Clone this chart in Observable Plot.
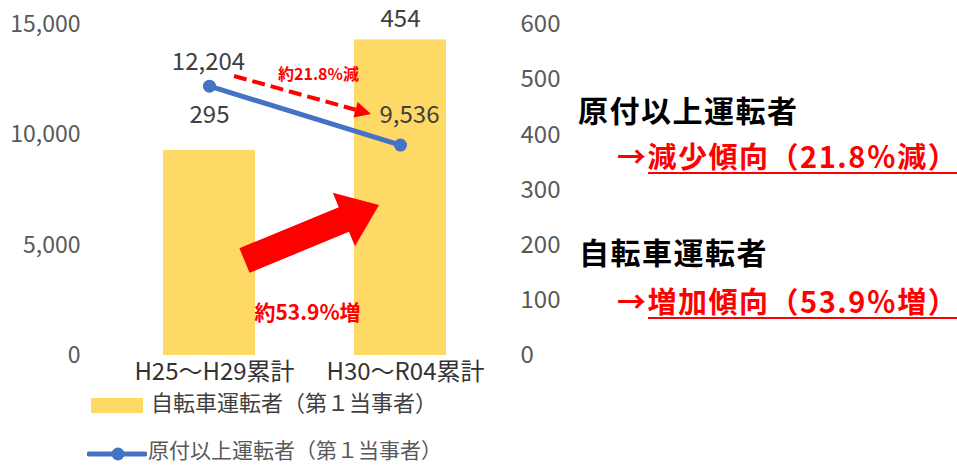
<!DOCTYPE html>
<html>
<head>
<meta charset="utf-8">
<script src="https://cdn.jsdelivr.net/npm/d3@7"></script>
<script src="https://cdn.jsdelivr.net/npm/@observablehq/plot@0.6"></script>
<style>
  body { margin: 0; background: #fff; }
  #wrap { position: relative; width: 957px; height: 465px; overflow: hidden; font-family: "Noto Sans CJK JP", sans-serif; }
  .abs { position: absolute; white-space: nowrap; line-height: 1; }
  .note-title { font-size: 30px; font-weight: 700; color: #000; letter-spacing: 1.5px; }
  .note-sub { font-size: 29px; font-weight: 700; color: #FF0000; letter-spacing: 1.5px; }
  .note-sub .ul { display: inline-block; border-bottom: 2px solid #FF0000; padding-bottom: 2px; padding-right: 10px; }
  .legend-text { font-size: 22px; }
</style>
</head>
<body>
<div id="wrap">
  <div id="chart"></div>
</div>
<script>
// ---- data ----
const categories = ["H25～H29累計", "H30～R04累計"];
const bicycleCounts = [295, 454];        // 自転車運転者（第１当事者） – bars
const mopedCounts = [12204, 9536];       // 原付以上運転者（第１当事者） – line
const leftTicks = [0, 5000, 10000, 15000];
const rightTicks = [0, 100, 200, 300, 400, 500, 600];
const seriesNames = ["自転車運転者（第１当事者）", "原付以上運転者（第１当事者）"];
const changeLabels = ["約21.8%減", "約53.9%増"];
const noteTitles = ["原付以上運転者", "自転車運転者"];
const noteTrends = ["減少傾向（21.8％減）", "増加傾向（53.9％増）"];

// secondary-axis mapping (right axis values onto left axis domain)
const RIGHT_AXIS_FACTOR = 25;
const BAR_FACTOR = 31.5;

// ---- annotation layout (styles / offsets) ----
const barLabelDy = [-35, -21];
const lineLabelDx = [-1, 9];
const lineLabelDy = [-24, -30];
const arrowAnchors = [
  {from: [0, 12644], fromDx: 25, to: [1, 10921], toDx: -29, kind: "dashed"},
  {from: [0, 4282], fromDx: 35.5, to: [1, 6798], toDx: -21, kind: "block"}
];
const changeLabelPos = [
  {cat: 0, y: 12734, dx: 109, size: 16},
  {cat: 0, y: 1903, dx: 98, size: 21}
];

const red = "#FF0000";
const blue = "#4472C4";
const gold = "#FFD966";

function arrowMark(index, scales, values, dimensions) {
  const NS = "http://www.w3.org/2000/svg";
  const g = document.createElementNS(NS, "g");
  const bw = typeof scales.x.bandwidth === "function" ? scales.x.bandwidth() : (scales.x.bandwidth || 0);
  const cx = i => scales.x(categories[i]) + bw / 2;
  for (const a of arrowAnchors) {
    const S = [cx(a.from[0]) + a.fromDx, scales.y(a.from[1])];
    const T = [cx(a.to[0]) + a.toDx, scales.y(a.to[1])];
    const L = Math.hypot(T[0] - S[0], T[1] - S[1]);
    const u = [(T[0] - S[0]) / L, (T[1] - S[1]) / L];
    const n = [-u[1], u[0]];
    const P = (p, du, dn) => [p[0] + u[0] * du + n[0] * dn, p[1] + u[1] * du + n[1] * dn];
    if (a.kind === "dashed") {
      const hl = 16, hw = 8;
      const B = P(T, -hl, 0);
      const line = document.createElementNS(NS, "line");
      line.setAttribute("x1", S[0]); line.setAttribute("y1", S[1]);
      line.setAttribute("x2", B[0]); line.setAttribute("y2", B[1]);
      line.setAttribute("stroke", red); line.setAttribute("stroke-width", 4);
      line.setAttribute("stroke-dasharray", "13,6");
      g.appendChild(line);
      const head = document.createElementNS(NS, "polygon");
      head.setAttribute("points", [T, P(B, 0, hw), P(B, 0, -hw)].map(p => p.join(",")).join(" "));
      head.setAttribute("fill", red);
      g.appendChild(head);
    } else {
      const w = 13.3, hw = 29, hl = 38;
      const B = P(T, -hl, 0);
      const pts = [P(S, 0, w), P(B, 0, w), P(B, 0, hw), T, P(B, 0, -hw), P(B, 0, -w), P(S, 0, -w)];
      const poly = document.createElementNS(NS, "polygon");
      poly.setAttribute("points", pts.map(p => p.join(",")).join(" "));
      poly.setAttribute("fill", red);
      g.appendChild(poly);
    }
  }
  return g;
}

const idx = categories.map((_, i) => i);

const chart = Plot.plot({
  width: 957,
  height: 390,
  marginLeft: 90,
  marginRight: 447,
  marginTop: 24,
  marginBottom: 35,
  style: {fontFamily: "'Noto Sans CJK JP', sans-serif", fontSize: "24px", color: "#595959", background: "white"},
  x: {domain: categories, paddingInner: 0.516, paddingOuter: 0.352, align: 0.533, label: null},
  y: {domain: [0, 15000], label: null},
  marks: [
    Plot.axisY({ticks: leftTicks, tickFormat: d3.format(","), tickSize: 0, tickPadding: 10, anchor: "left", label: null, fill: "#595959", fontSize: 23}),
    Plot.axisY({ticks: rightTicks.map(t => t * RIGHT_AXIS_FACTOR), tickFormat: d => String(d / RIGHT_AXIS_FACTOR), tickSize: 0, tickPadding: 10, anchor: "right", label: null, fill: "#595959", fontSize: 24}),
    Plot.axisX({tickSize: 0, tickPadding: 7, label: null, fill: "#333333", dx: 5, fontSize: 24}),
    Plot.barY(idx, {x: i => categories[i], y: i => bicycleCounts[i] * BAR_FACTOR, fill: gold}),
    Plot.line(idx, {x: i => categories[i], y: i => mopedCounts[i], stroke: blue, strokeWidth: 5}),
    Plot.dot(idx, {x: i => categories[i], y: i => mopedCounts[i], r: 6.5, fill: blue}),
    ...idx.map(i => Plot.text([i], {x: () => categories[i], y: () => bicycleCounts[i] * BAR_FACTOR, text: () => String(bicycleCounts[i]), dy: barLabelDy[i], fill: "#404040", fontSize: 24})),
    ...idx.map(i => Plot.text([i], {x: () => categories[i], y: () => mopedCounts[i], text: () => d3.format(",")(mopedCounts[i]), dx: lineLabelDx[i], dy: lineLabelDy[i], fill: "#404040", fontSize: 24})),
    arrowMark,
    ...changeLabelPos.map((p, i) => Plot.text([i], {x: () => categories[p.cat], y: () => p.y, text: () => changeLabels[i], dx: p.dx, fill: red, fontWeight: "bold", fontSize: p.size}))
  ]
});
const wrap = document.getElementById("wrap");
document.getElementById("chart").appendChild(chart);

function addDiv(html, cls, left, top) {
  const d = document.createElement("div");
  d.className = "abs " + cls;
  d.style.left = left + "px";
  d.style.top = top + "px";
  d.innerHTML = html;
  wrap.appendChild(d);
  return d;
}

// legend (below the SVG)
const sw = document.createElement("div");
sw.className = "abs";
Object.assign(sw.style, {left: "91px", top: "398px", width: "52px", height: "15px", background: gold});
wrap.appendChild(sw);
addDiv(seriesNames[0], "legend-text", 151, 390).style.color = "#404040";
const ls = document.createElementNS("http://www.w3.org/2000/svg", "svg");
ls.setAttribute("width", 60); ls.setAttribute("height", 16);
ls.style.position = "absolute"; ls.style.left = "87px"; ls.style.top = "446px";
ls.innerHTML = `<line x1="2" y1="8" x2="58" y2="8" stroke="${blue}" stroke-width="5" stroke-linecap="round"/><circle cx="31" cy="8" r="6.5" fill="${blue}"/>`;
wrap.appendChild(ls);
const lg2 = addDiv(seriesNames[1], "legend-text", 148, 439);
lg2.style.color = "#595959";
lg2.style.fontSize = "21px";

// right-hand notes
addDiv(noteTitles[0], "note-title", 578, 94);
addDiv("→<span class='ul'>" + noteTrends[0] + "</span>", "note-sub", 617, 141);
addDiv(noteTitles[1], "note-title", 579, 236);
addDiv("→<span class='ul'>" + noteTrends[1] + "</span>", "note-sub", 617, 286);
</script>
</body>
</html>
